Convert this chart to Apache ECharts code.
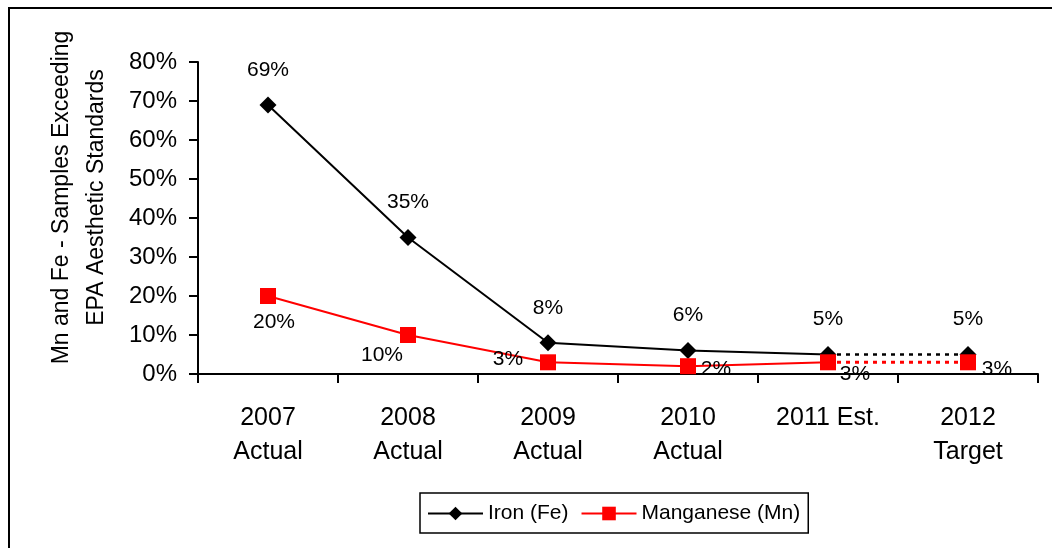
<!DOCTYPE html>
<html>
<head>
<meta charset="utf-8">
<script src="https://cdn.jsdelivr.net/npm/echarts@6/dist/echarts.min.js"></script>
<style>
  html, body { margin: 0; padding: 0; background: #fff; }
  #frame { position: absolute; left: 8px; top: 7px; width: 1100px; height: 600px; border: 2px solid #000; box-sizing: border-box; }
  #chart { position: absolute; left: 0; top: 0; width: 1052px; height: 548px; }
</style>
</head>
<body>
<div id="frame"></div>
<div id="chart"></div>
<script>
// Share of samples exceeding EPA aesthetic standards, by year
const categories = ['2007\nActual', '2008\nActual', '2009\nActual', '2010\nActual', '2011 Est.', '2012\nTarget'];
const ironValues = [69, 35, 8, 6, 5, 5];
const manganeseValues = [20, 10, 3, 2, 3, 3];
const yTicks = [0, 10, 20, 30, 40, 50, 60, 70, 80];

// last segment (estimate -> target) is drawn dotted
const solidCount = 5;
function solidPart(arr) { return arr.map((v, i) => i < solidCount ? v : '-'); }
function dottedPart(arr) { return arr.map((v, i) => i >= solidCount - 1 ? v : '-'); }

// manganese label offsets (px) so labels sit clear of the lines
const mnLabelOffsets = [[6, 26], [-26, 20], [-40, -3], [28, 3], [27, 12], [29, 7]];

const font = 'Liberation Sans, Arial, sans-serif';
const chart = echarts.init(document.getElementById('chart'), null, { renderer: 'canvas' });

const ironLabel = {
  position: 'top', distance: 16, color: '#000', fontSize: 21, fontFamily: font,
  formatter: p => p.value + '%'
};
const mnLabel = {
  position: 'inside', color: '#000', fontSize: 21, fontFamily: font,
  formatter: p => p.value + '%'
};

chart.setOption({
  animation: false,
  textStyle: { fontFamily: font },
  grid: { left: 198, right: 14, top: 62, bottom: 174, containLabel: false },
  legend: {
    data: ['Iron (Fe)', 'Manganese (Mn)'],
    top: 493,
    left: 420,
    itemWidth: 55,
    itemHeight: 17,
    itemGap: 12,
    padding: [10, 8, 9, 7],
    borderColor: '#000',
    borderWidth: 1.5,
    textStyle: { fontFamily: font, fontSize: 21, color: '#000' }
  },
  xAxis: {
    type: 'category',
    data: categories,
    boundaryGap: true,
    axisLine: { lineStyle: { color: '#000', width: 2 } },
    axisTick: { show: true, length: 9, alignWithLabel: false, lineStyle: { color: '#000', width: 2 } },
    axisLabel: { color: '#000', fontSize: 25, lineHeight: 34, margin: 27, fontFamily: font, interval: 0 },
    splitLine: { show: false }
  },
  yAxis: {
    type: 'value',
    min: yTicks[0],
    max: yTicks[yTicks.length - 1],
    interval: 10,
    name: 'Mn and Fe - Samples Exceeding\nEPA Aesthetic Standards',
    nameLocation: 'middle',
    nameGap: 84,
    nameRotate: 90,
    nameTextStyle: { color: '#000', fontSize: 23, lineHeight: 35, fontFamily: font, padding: [0, 0, 0, 41] },
    axisLine: { show: true, lineStyle: { color: '#000', width: 2 } },
    axisTick: { show: true, length: 9, lineStyle: { color: '#000', width: 2 } },
    axisLabel: { color: '#000', fontSize: 24, margin: 21, fontFamily: font, formatter: v => v + '%' },
    splitLine: { show: false }
  },
  series: [
    {
      name: 'Iron (Fe)',
      type: 'line',
      data: solidPart(ironValues),
      color: '#000',
      symbol: 'diamond',
      symbolSize: 17,
      lineStyle: { color: '#000', width: 2 },
      itemStyle: { color: '#000' },
      label: Object.assign({ show: true }, ironLabel),
      z: 3
    },
    {
      name: 'Iron (Fe) est',
      type: 'line',
      data: dottedPart(ironValues).map((v, i) => i === categories.length - 1
        ? { value: v, symbol: 'diamond', symbolSize: 17, label: { show: true } }
        : v),
      symbol: 'none',
      lineStyle: { color: '#000', width: 2.5, type: [4, 5] },
      itemStyle: { color: '#000' },
      label: Object.assign({ show: false }, ironLabel),
      z: 3
    },
    {
      name: 'Manganese (Mn)',
      type: 'line',
      data: solidPart(manganeseValues).map((v, i) => v === '-' ? v : {
        value: v,
        label: { offset: mnLabelOffsets[i] }
      }),
      color: '#ff0000',
      symbol: 'rect',
      symbolSize: 16,
      lineStyle: { color: '#ff0000', width: 2 },
      itemStyle: { color: '#ff0000' },
      label: Object.assign({ show: true }, mnLabel),
      z: 4
    },
    {
      name: 'Manganese (Mn) est',
      type: 'line',
      data: dottedPart(manganeseValues).map((v, i) => i === categories.length - 1
        ? { value: v, symbol: 'rect', symbolSize: 16, label: { show: true, offset: mnLabelOffsets[i] } }
        : v),
      symbol: 'none',
      lineStyle: { color: '#ff0000', width: 3, type: [4, 5] },
      itemStyle: { color: '#ff0000' },
      label: Object.assign({ show: false }, mnLabel),
      z: 4
    }
  ]
});
</script>
</body>
</html>
